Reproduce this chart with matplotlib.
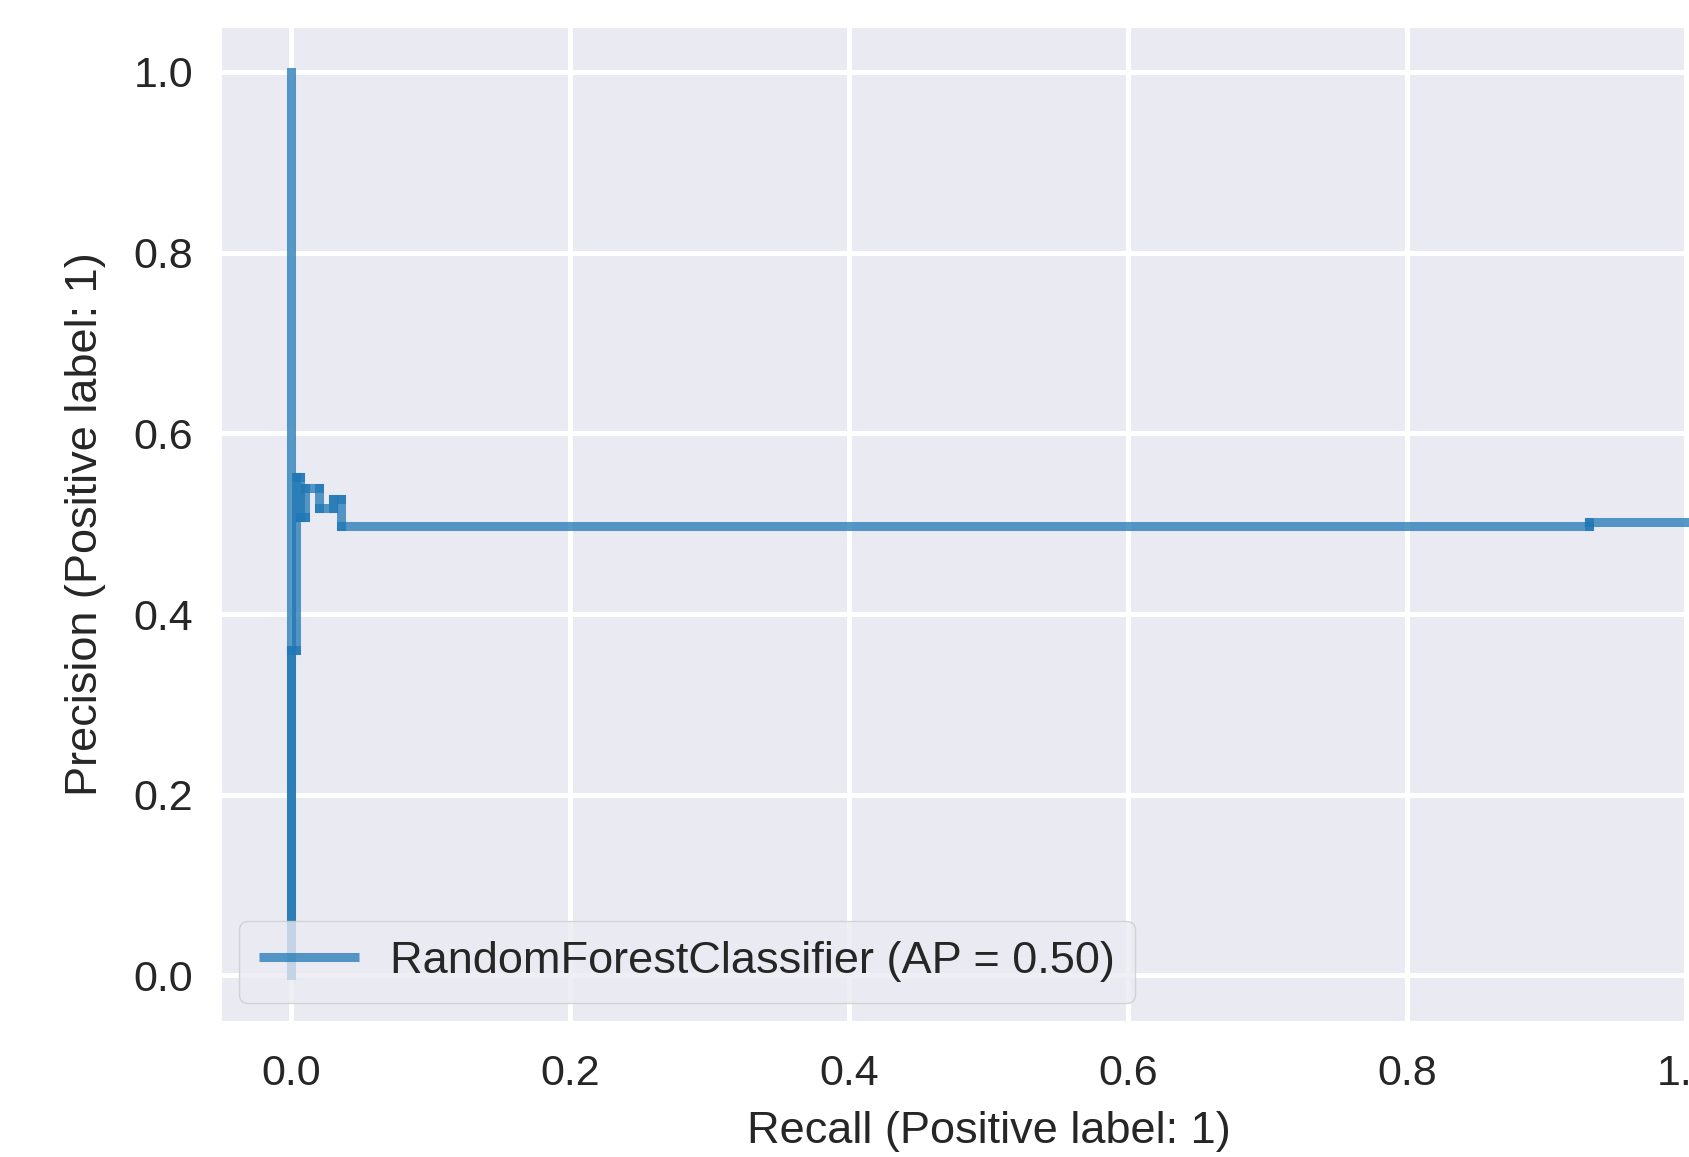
import numpy as np
import matplotlib
matplotlib.use('Agg')
import matplotlib.pyplot as plt
from matplotlib.collections import LineCollection
import seaborn as sns

# Precision-recall points (recall descending, sklearn order)
recall = [1.0, 0.93, 0.036, 0.030, 0.020, 0.010, 0.0065, 0.0036, 0.0, 0.0]
precision = [0.502, 0.497, 0.527, 0.517, 0.540, 0.507, 0.552, 0.36, 0.0, 1.0]
model_name = 'RandomForestClassifier'
avg_precision = 0.50
ticks = [0.0, 0.2, 0.4, 0.6, 0.8, 1.0]

sns.set_style('darkgrid')
plt.rcParams['font.family'] = ['Liberation Sans', 'DejaVu Sans']

fig = plt.figure(figsize=(16.9, 11.57), dpi=100)
ax = fig.add_axes([221 / 1690, (1157 - 1020.6) / 1157, 1535 / 1690, 993.8 / 1157])

# Build the steps-post segments, each drawn on its own so overlaps darken
segs = []
for i in range(len(recall) - 1):
    x0, y0 = recall[i], precision[i]
    x1, y1 = recall[i + 1], precision[i + 1]
    if x0 != x1:
        segs.append([(x0, y0), (x1, y0)])
    if y0 != y1:
        segs.append([(x1, y0), (x1, y1)])

lc = LineCollection(segs, colors='#1f77b4', linewidths=6.5, alpha=0.75,
                    capstyle='projecting',
                    label=f'{model_name} (AP = {avg_precision:.2f})')
ax.add_collection(lc)

ax.set_xlim(-0.05, 1.05)
ax.set_ylim(-0.05, 1.05)
ax.set_xticks(ticks)
ax.set_yticks(ticks)
ax.grid(True, color='white', linewidth=3.6)
ax.tick_params(labelsize=31, length=0, pad=24, colors='0.15')
ax.tick_params(axis='y', pad=20)
ax.set_xlabel('Recall (Positive label: 1)', fontsize=32.5, color='0.15', labelpad=12)
ax.set_ylabel('Precision (Positive label: 1)', fontsize=32.5, color='0.15', labelpad=20)

ax.legend(loc='lower left', fontsize=32.5, frameon=True, framealpha=0.8,
          edgecolor='0.8', handlelength=2.2, handletextpad=0.7,
          borderaxespad=0.4, borderpad=0.45)

fig.savefig('out.png', dpi=100)
